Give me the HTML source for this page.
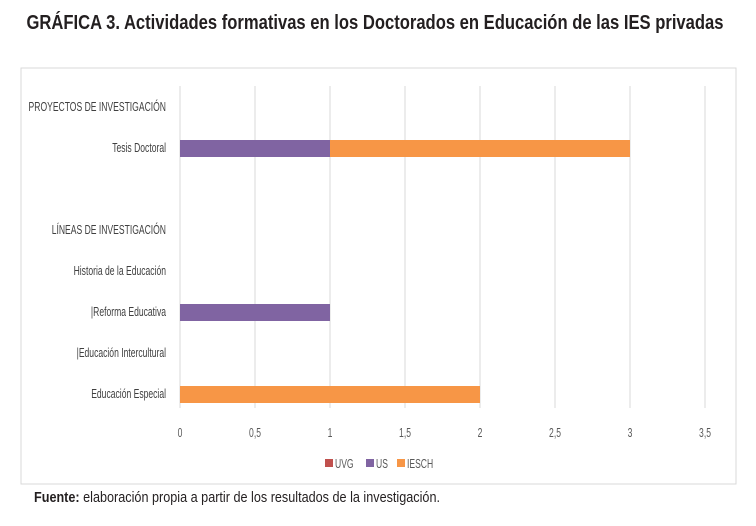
<!DOCTYPE html>
<html><head><meta charset="utf-8"><style>
body{margin:0;background:#fff;}
svg{display:block;font-family:"Liberation Sans Narrow","Liberation Sans",sans-serif;}
</style></head><body>
<svg id="c" width="756" height="526" viewBox="0 0 756 526">
<text x="375" y="29" text-anchor="middle" font-size="20" font-weight="bold" fill="#231f20" textLength="697" lengthAdjust="spacingAndGlyphs">GRÁFICA 3. Actividades formativas en los Doctorados en Educación de las IES privadas</text>
<rect x="21" y="68" width="715" height="416" fill="none" stroke="#d9d9d9"/>
<g id="grid"></g><g id="bars"></g><g id="labels"></g><g id="ticks"></g>
<g id="legend"></g>
<text x="34" y="502" font-size="15" fill="#231f20" textLength="406" lengthAdjust="spacingAndGlyphs"><tspan font-weight="bold">Fuente:</tspan> elaboración propia a partir de los resultados de la investigación.</text>
</svg>
<script>
const categories=["PROYECTOS DE INVESTIGACIÓN","Tesis Doctoral","","LÍNEAS DE INVESTIGACIÓN","Historia de la Educación","|Reforma Educativa","|Educación Intercultural","Educación Especial"];
const seriesNames=["UVG","US","IESCH"];
const seriesColors=["#c0504d","#8064a2","#f79646"];
const uvg=[0,0,0,0,0,0,0,0];
const us=[0,1,0,0,0,1,0,0];
const iesch=[0,2,0,0,0,0,0,2];
const ticks=[0,0.5,1,1.5,2,2.5,3,3.5];
const tickLabels=["0","0,5","1","1,5","2","2,5","3","3,5"];
const NS="http://www.w3.org/2000/svg";
const x0=180,unit=150,plotTop=86,band=41,gridBottom=408,sq=0.66;
const xs=v=>x0+v*unit, yc=i=>107+i*band;
function mk(tag,attrs,parent,text){const e=document.createElementNS(NS,tag);for(const k in attrs)e.setAttribute(k,attrs[k]);if(text!==undefined)e.textContent=text;document.getElementById(parent).appendChild(e);return e;}
ticks.forEach((t,i)=>{
 const l=mk('line',{x1:xs(t),x2:xs(t),y1:plotTop,y2:gridBottom,stroke:'#d9d9d9'},'grid');
 
 
 const tx=mk('text',{x:0,y:0,transform:`translate(${xs(t)},437) scale(${sq},1)`,'text-anchor':'middle','font-size':13,fill:'#595959'},'ticks',tickLabels[i]);
 
 
});
const series=[uvg,us,iesch];
categories.forEach((c,i)=>{
 const t=mk('text',{x:0,y:0,transform:`translate(166,${yc(i)+4}) scale(${sq},1)`,'text-anchor':'end','font-size':13,fill:'#404040'},'labels',c);
 
 
 let acc=0;
 series.forEach((s,k)=>{
  if(s[i]>0){
   const r=mk('rect',{x:xs(acc),y:yc(i)-8,width:s[i]*unit,height:17,fill:seriesColors[k]},'bars');
   
   
   acc+=s[i];
  }
 });
});
const lx=[325,366,397];
seriesNames.forEach((n,k)=>{
 const r=mk('rect',{x:lx[k],y:459,width:8,height:8,fill:seriesColors[k]},'legend');
 
 
 const t=mk('text',{x:0,y:0,transform:`translate(${lx[k]+10},468) scale(${sq},1)`,'font-size':13,fill:'#595959'},'legend',n);
 
 
});
</script>
</body></html>
